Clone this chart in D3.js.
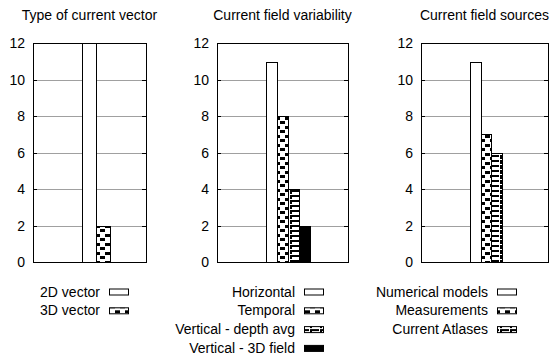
<!DOCTYPE html>
<html>
<head>
<meta charset="utf-8">
<script src="https://cdn.jsdelivr.net/npm/d3@7"></script>
<style>
  body { margin: 0; background: #fff; }
  text { font-family: "Liberation Sans", Arial, sans-serif; font-size: 14px; fill: #000; }
</style>
</head>
<body>
<svg id="chart" width="551" height="354"></svg>
<script>
// chart data
var vectorTypes = ['2D vector', '3D vector'];
var vectorCounts = [12, 2];

var variabilityTypes = ['Horizontal', 'Temporal', 'Vertical - depth avg', 'Vertical - 3D field'];
var variabilityCounts = [11, 8, 4, 2];

var sourceTypes = ['Numerical models', 'Measurements', 'Current Atlases'];
var sourceCounts = [11, 7, 6];

var panelTitles = ['Type of current vector', 'Current field variability', 'Current field sources'];
var yTicks = [0, 2, 4, 6, 8, 10, 12];

// fills used for the series, in order
var fills = ['#fff', 'url(#patA)', 'url(#patB)', '#000'];

var svg = d3.select('#chart');

// gnuplot-like fill patterns
var defs = svg.append('defs');
var patA = defs.append('pattern').attr('id', 'patA')
    .attr('patternUnits', 'userSpaceOnUse').attr('width', 10).attr('height', 9);
patA.append('rect').attr('width', 10).attr('height', 9).attr('fill', '#fff');
patA.append('rect').attr('x', 5).attr('y', 0).attr('width', 5).attr('height', 3).attr('fill', '#000');
patA.append('rect').attr('x', 0).attr('y', 4).attr('width', 5).attr('height', 3).attr('fill', '#000');

var patB = defs.append('pattern').attr('id', 'patB')
    .attr('patternUnits', 'userSpaceOnUse').attr('width', 10).attr('height', 5);
patB.append('rect').attr('width', 10).attr('height', 5).attr('fill', '#fff');
patB.append('rect').attr('x', 2).attr('y', 0).attr('width', 7).attr('height', 2).attr('fill', '#000');
patB.append('rect').attr('x', 0).attr('y', 0).attr('width', 2).attr('height', 4).attr('fill', '#000');

// layout of the three panels
var plotTop = 43.3, plotBottom = 262;
var panels = [
    { left: 33, right: 146, band: [0.436, 0.684], legendX: 109, cats: vectorTypes, vals: vectorCounts },
    { left: 217, right: 348, band: [0.377, 0.71], legendX: 304, cats: variabilityTypes, vals: variabilityCounts },
    { left: 421, right: 548, band: [0.385, 0.639], legendX: 497, cats: sourceTypes, vals: sourceCounts }
];

var yScale = d3.scaleLinear().domain([0, 12]).range([plotBottom, plotTop]);

panels.forEach(function (p, pi) {
    var w = p.right - p.left;
    var g = svg.append('g');

    // title
    g.append('text')
        .attr('x', (p.left + p.right) / 2)
        .attr('y', 20)
        .attr('text-anchor', 'middle')
        .text(panelTitles[pi]);

    // grid lines
    g.selectAll('.grid')
        .data(yTicks.filter(function (t) { return t > 0 && t < 12; }))
        .enter().append('line')
        .attr('x1', p.left).attr('x2', p.right)
        .attr('y1', function (d) { return Math.round(yScale(d)) + 0.5; })
        .attr('y2', function (d) { return Math.round(yScale(d)) + 0.5; })
        .attr('stroke', '#a0a0a0').attr('stroke-width', 1);

    // y axis labels
    g.selectAll('.ylab')
        .data(yTicks)
        .enter().append('text')
        .attr('x', p.left - 8)
        .attr('y', function (d) { return yScale(d) + 5; })
        .attr('text-anchor', 'end')
        .text(function (d) { return d; });

    // bars
    var x = d3.scaleBand()
        .domain(p.cats)
        .range([p.left + p.band[0] * w, p.left + p.band[1] * w])
        .padding(0);

    g.selectAll('.bar')
        .data(p.cats.map(function (c, i) { return { cat: c, val: p.vals[i], i: i }; }))
        .enter().append('rect')
        .attr('x', function (d) { return Math.round(x(d.cat)) + 0.5; })
        .attr('y', function (d) { return Math.round(yScale(d.val)) + 0.5; })
        .attr('width', function (d) { return Math.round(x(d.cat) + x.bandwidth()) - Math.round(x(d.cat)); })
        .attr('height', function (d) { return Math.round(yScale(0)) - Math.round(yScale(d.val)); })
        .attr('fill', function (d) { return fills[d.i]; })
        .attr('stroke', '#000').attr('stroke-width', 1);

    // tick marks on both sides
    var tickLen = 4;
    yTicks.forEach(function (t) {
        var yy = Math.round(yScale(t)) + 0.5;
        g.append('line').attr('x1', p.left).attr('x2', p.left + tickLen)
            .attr('y1', yy).attr('y2', yy).attr('stroke', '#000');
        g.append('line').attr('x1', p.right - tickLen).attr('x2', p.right)
            .attr('y1', yy).attr('y2', yy).attr('stroke', '#000');
    });

    // frame
    g.append('rect')
        .attr('x', Math.round(p.left) + 0.5)
        .attr('y', Math.round(plotTop) + 0.5)
        .attr('width', Math.round(p.right) - Math.round(p.left))
        .attr('height', Math.round(plotBottom) - Math.round(plotTop))
        .attr('fill', 'none').attr('stroke', '#000');

    // legend
    var leg = g.selectAll('.leg')
        .data(p.cats)
        .enter().append('g')
        .attr('transform', function (d, i) { return 'translate(0,' + (291.5 + i * 18.8) + ')'; });
    leg.append('text')
        .attr('x', p.legendX - 9)
        .attr('y', 5)
        .attr('text-anchor', 'end')
        .text(function (d) { return d; });
    leg.append('rect')
        .attr('x', p.legendX + 0.5)
        .attr('y', -2.5)
        .attr('width', 19)
        .attr('height', 6)
        .attr('fill', function (d, i) { return fills[i]; })
        .attr('stroke', '#000');
});
</script>
</body>
</html>
